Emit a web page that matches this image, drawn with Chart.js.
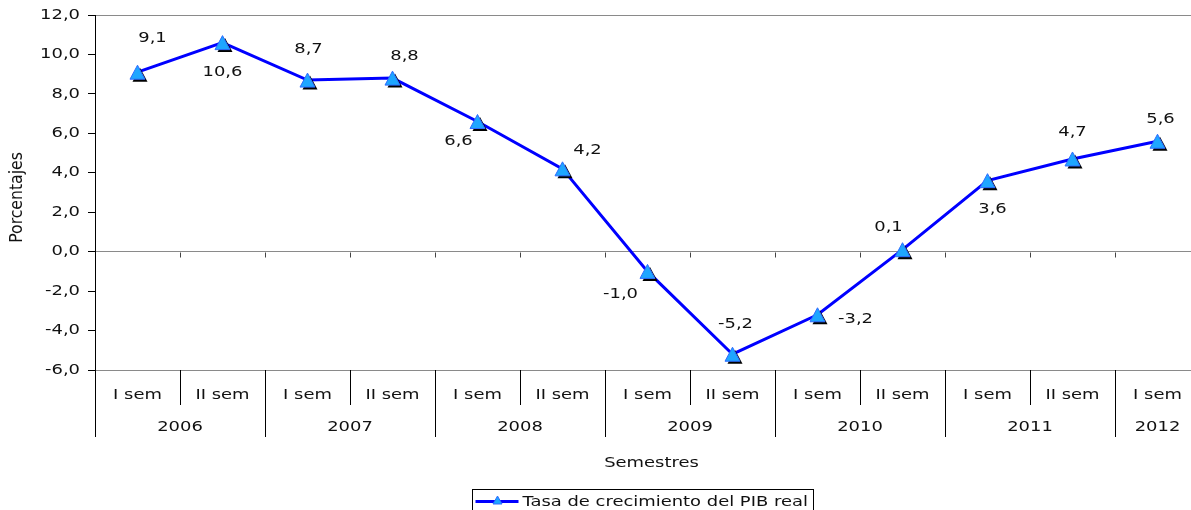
<!DOCTYPE html>
<html>
<head>
<meta charset="utf-8">
<script src="https://cdn.jsdelivr.net/npm/chart.js@4.4.1/dist/chart.umd.min.js"></script>
<style>
  html, body { margin: 0; padding: 0; background: #fff; overflow: hidden; }
  #wrap { position: relative; width: 1205px; height: 510px; }
</style>
</head>
<body>
<div id="wrap"><canvas id="c"></canvas></div>
<script>
// Semesters and the year each belongs to
const semesters = ['I sem', 'II sem', 'I sem', 'II sem', 'I sem', 'II sem', 'I sem',
                   'II sem', 'I sem', 'II sem', 'I sem', 'II sem', 'I sem'];
const semesterYears = ['2006', '2006', '2007', '2007', '2008', '2008', '2009',
                       '2009', '2010', '2010', '2011', '2011', '2012'];

// Real GDP growth rate (%)
const growth = [9.1, 10.6, 8.7, 8.8, 6.6, 4.2, -1.0, -5.2, -3.2, 0.1, 3.6, 4.7, 5.6];

// Value axis range
const yMin = -6;
const yMax = 12;
const yStep = 2;

// Where each value label sits relative to its marker (px)
const labelOffsets = [[15, -34], [0, 30], [1, -31], [12, -22], [-19, 20], [25, -18],
                      [-27, 23], [3, -30], [38, 5], [-14, -22], [5, 29], [0, -27], [3, -22]];

const seriesName = 'Tasa de crecimiento del PIB real';
const xTitle = 'Semestres';
const yTitle = 'Porcentajes';

const FONT = 'DejaVu Sans';
const FONT_PX = 14;
const TEXT_SX = 1.28;   // wide lettering
const fmt = v => v.toFixed(1).replace('.', ',');

Chart.defaults.font.family = FONT;
Chart.defaults.font.size = FONT_PX;
Chart.defaults.color = '#000';

function stretchedText(ctx, text, x, y, align) {
  ctx.save();
  ctx.translate(x, y);
  ctx.scale(TEXT_SX, 1);
  ctx.textAlign = align || 'center';
  ctx.textBaseline = 'middle';
  ctx.fillText(text, 0, 0);
  ctx.restore();
}

function triangle(ctx, x, y, fill, stroke, half, h) {
  half = half || 7.5;
  h = h || 7;
  ctx.beginPath();
  ctx.moveTo(x, y - h);
  ctx.lineTo(x + half, y + h);
  ctx.lineTo(x - half, y + h);
  ctx.closePath();
  ctx.fillStyle = fill;
  ctx.fill();
  if (stroke) {
    ctx.lineWidth = 1;
    ctx.strokeStyle = stroke;
    ctx.stroke();
  }
}

function marker(ctx, x, y) {
  triangle(ctx, x + 2.5, y + 2.5, '#000');
  triangle(ctx, x, y, '#1EA6FF', '#2D6BFF');
}

const textFont = () => FONT_PX + 'px "' + FONT + '"';

// Markers and value labels
const markerPlugin = {
  id: 'markers',
  afterDatasetsDraw(chart) {
    const ctx = chart.ctx;
    const meta = chart.getDatasetMeta(0);
    ctx.save();
    meta.data.forEach(pt => marker(ctx, pt.x, pt.y));
    ctx.font = textFont();
    ctx.fillStyle = '#111';
    meta.data.forEach((pt, i) => {
      const o = labelOffsets[i];
      stretchedText(ctx, fmt(growth[i]), pt.x + o[0], pt.y + o[1], 'center');
    });
    ctx.restore();
  }
};

// Value-axis labels and title
const valueAxisPlugin = {
  id: 'valueAxis',
  afterDraw(chart) {
    const ctx = chart.ctx;
    const ys = chart.scales.y;
    ctx.save();
    ctx.font = textFont();
    ctx.fillStyle = '#111';
    ys.ticks.forEach(t => {
      stretchedText(ctx, fmt(t.value), ys.right - 15, ys.getPixelForValue(t.value), 'right');
    });
    ctx.translate(17, (ys.top + ys.bottom) / 2 + 5);
    ctx.rotate(-Math.PI / 2);
    ctx.scale(1.12, TEXT_SX);
    ctx.textAlign = 'center';
    ctx.textBaseline = 'middle';
    ctx.fillText(yTitle, 0, 0);
    ctx.restore();
  }
};

// Two-level category axis, zero-line ticks, axis title and legend
const categoryPlugin = {
  id: 'categoryAxis',
  afterDraw(chart) {
    const ctx = chart.ctx;
    const xs = chart.scales.x;
    const ys = chart.scales.y;
    const area = chart.chartArea;
    const n = semesters.length;
    const w = xs.getPixelForValue(1) - xs.getPixelForValue(0);
    const edge = i => Math.round(xs.getPixelForValue(i) - w / 2) + 0.5;
    const y0 = Math.round(ys.getPixelForValue(0)) + 0.5;
    const bottom = area.bottom;

    ctx.save();
    // tick marks on the zero line
    ctx.strokeStyle = '#444';
    ctx.lineWidth = 1;
    ctx.beginPath();
    for (let i = 1; i < n; i++) {
      ctx.moveTo(edge(i), y0);
      ctx.lineTo(edge(i), y0 + 5);
    }
    ctx.stroke();

    // separators below the plot
    ctx.strokeStyle = '#000';
    ctx.beginPath();
    for (let i = 0; i <= n; i++) {
      const newYear = i === 0 || i === n || semesterYears[i] !== semesterYears[i - 1];
      ctx.moveTo(edge(i), bottom);
      ctx.lineTo(edge(i), bottom + (newYear ? 67 : 35));
    }
    ctx.stroke();

    ctx.fillStyle = '#111';
    ctx.font = textFont();
    semesters.forEach((s, i) => {
      stretchedText(ctx, s, xs.getPixelForValue(i), bottom + 25, 'center');
    });
    let start = 0;
    for (let i = 1; i <= n; i++) {
      if (i === n || semesterYears[i] !== semesterYears[start]) {
        const cx = (xs.getPixelForValue(start) + xs.getPixelForValue(i - 1)) / 2;
        stretchedText(ctx, semesterYears[start], cx, bottom + 57, 'center');
        start = i;
      }
    }

    // axis title
    stretchedText(ctx, xTitle, (area.left + area.right) / 2 + 4, bottom + 93, 'center');

    // legend
    const tw = ctx.measureText(seriesName).width * TEXT_SX;
    const boxW = Math.round(tw + 56);
    const bx = 472.5;
    const by = 489.5;
    ctx.strokeStyle = '#000';
    ctx.strokeRect(bx, by, boxW, 30);
    ctx.strokeStyle = '#0000FF';
    ctx.lineWidth = 3;
    ctx.beginPath();
    ctx.moveTo(bx + 3, by + 12);
    ctx.lineTo(bx + 46, by + 12);
    ctx.stroke();
    ctx.lineWidth = 1;
    triangle(ctx, bx + 25, by + 10.5, '#1EA6FF', '#2D6BFF', 4.5, 4);
    ctx.fillStyle = '#111';
    stretchedText(ctx, seriesName, bx + 50, by + 13, 'left');
    ctx.restore();
  }
};

const gridColor = ctx => {
  const v = ctx.tick && ctx.tick.value;
  return (v === yMax || v === 0 || v === yMin) ? '#8a8a8a' : 'rgba(0,0,0,0)';
};

new Chart(document.getElementById('c'), {
  type: 'line',
  data: {
    labels: semesters,
    datasets: [{
      label: seriesName,
      data: growth,
      borderColor: '#0000FF',
      borderWidth: 3,
      pointRadius: 0,
      tension: 0,
      fill: false
    }]
  },
  options: {
    responsive: true,
    maintainAspectRatio: false,
    animation: false,
    events: [],
    layout: { padding: { top: 15, right: 5, bottom: 140, left: 0 } },
    plugins: { legend: { display: false }, tooltip: { enabled: false } },
    scales: {
      x: {
        type: 'category',
        display: false,
        offset: true
      },
      y: {
        min: yMin,
        max: yMax,
        ticks: {
          display: false,
          stepSize: yStep
        },
        grid: {
          color: gridColor,
          tickColor: '#000',
          tickLength: 7
        },
        border: { color: '#000', width: 1 },
        afterFit(scale) { scale.width = 95; }
      }
    }
  },
  plugins: [markerPlugin, valueAxisPlugin, categoryPlugin]
});
</script>
</body>
</html>
